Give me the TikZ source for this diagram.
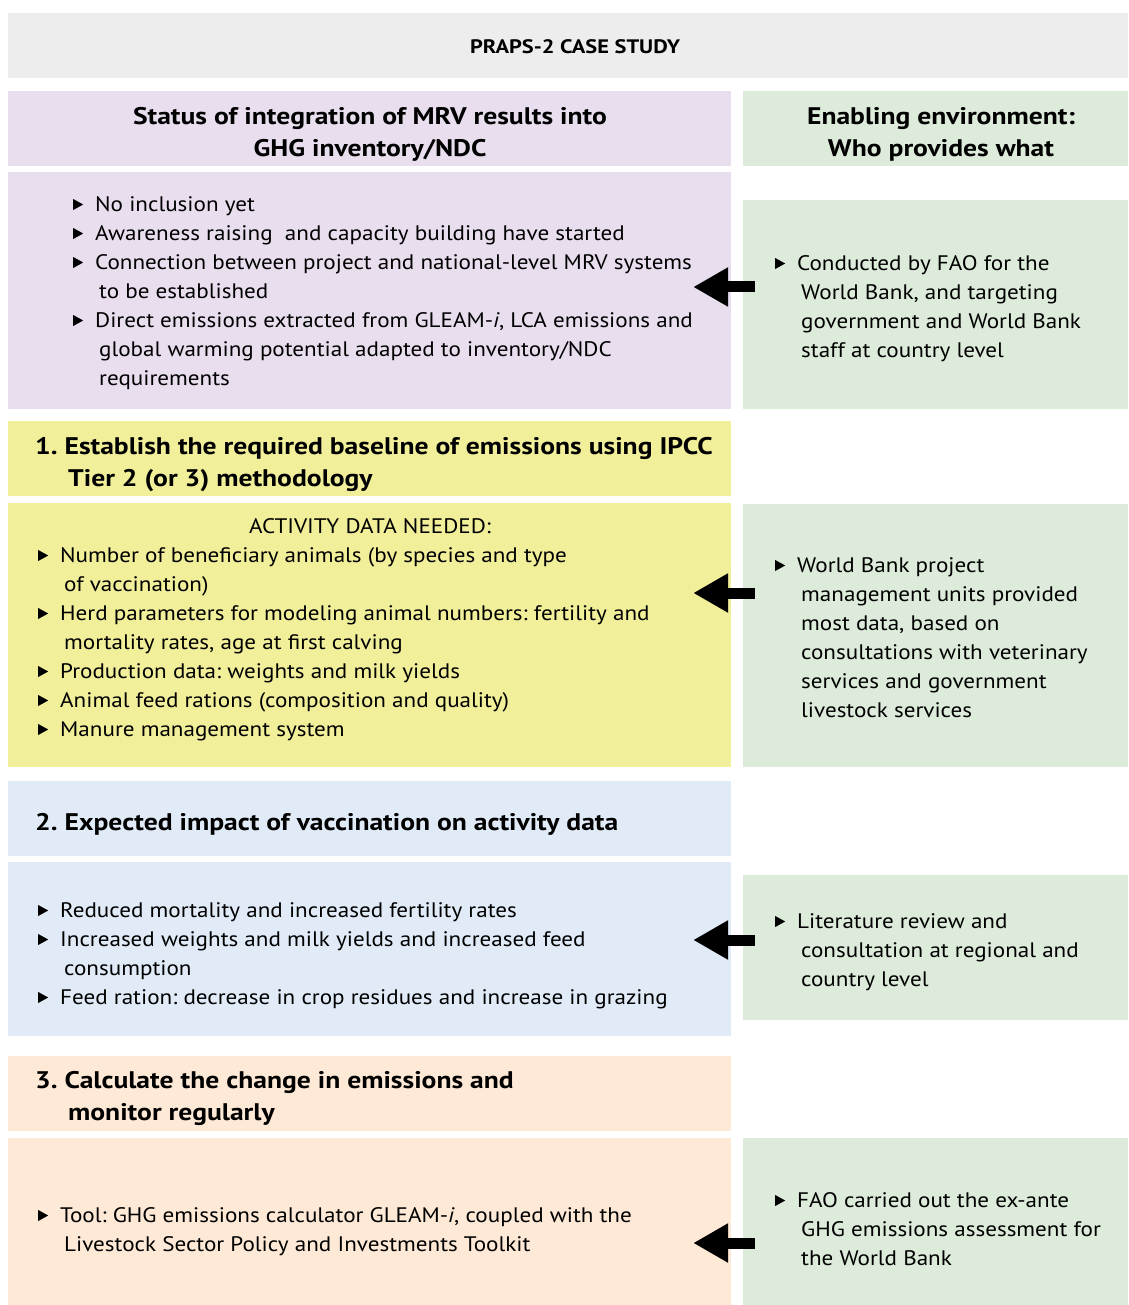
\documentclass[tikz,border=0pt]{standalone}
\usepackage{fontspec}
\setmainfont{PT Sans}[FakeStretch=1.1,BoldFeatures={FakeStretch=1.15}]
\usetikzlibrary{fit,calc,arrows.meta}
\frenchspacing

\definecolor{mist}{HTML}{EDEDED}
\definecolor{lilac}{HTML}{E8DEEE}
\definecolor{sage}{HTML}{DDEBDA}
\definecolor{lemon}{HTML}{F1EF9A}
\definecolor{sky}{HTML}{E0EBF7}
\definecolor{peach}{HTML}{FDE9D6}

\newcommand{\blt}{\raisebox{1pt}{\tikz[x=1pt,y=1pt]\fill (0,0) -- (10,5.5) -- (0,11) -- cycle;}}
\newcommand{\itm}[1]{\makebox[22pt][l]{\blt}#1}
\newcommand{\cnt}{\hspace*{26pt}}

\begin{document}
\begin{tikzpicture}[x=1pt,y=-1pt]
		\tikzstyle{panel}=[inner sep=0,draw=none]
		\tikzstyle{hd}=[align=center,anchor=base,inner sep=0,font=\bfseries\fontsize{24}{32.5}\selectfont]
		\tikzstyle{stephead}=[align=left,anchor=base west,inner sep=0,font=\bfseries\fontsize{24}{32}\selectfont]
		\tikzstyle{txt}=[align=left,anchor=base west,inner sep=0,font=\fontsize{21}{29}\selectfont]
		\tikzstyle{push}=[-{Triangle[length=35pt,width=37pt]},line width=11pt]

		\useasboundingbox (0,0) rectangle (1128,1305);

		% background panels
		\node [panel,fill=mist,fit={(8,13) (1128,78)}] (top) {};
		\node [panel,fill=lilac,fit={(8,91) (731,166)}] (stat) {};
		\node [panel,fill=sage,fit={(743,91) (1128,166)}] (env) {};
		\node [panel,fill=lilac,fit={(8,172) (731,409)}] (stat1) {};
		\node [panel,fill=sage,fit={(743,200) (1128,409)}] (env1) {};
		\node [panel,fill=lemon,fit={(8,421) (731,496)}] (base) {};
		\node [panel,fill=lemon,fit={(8,503) (731,767)}] (base1) {};
		\node [panel,fill=sage,fit={(743,504) (1128,767)}] (env2) {};
		\node [panel,fill=sky,fit={(8,781) (731,856)}] (imp) {};
		\node [panel,fill=sky,fit={(8,862) (731,1036)}] (imp1) {};
		\node [panel,fill=sage,fit={(743,875) (1128,1020)}] (env3) {};
		\node [panel,fill=peach,fit={(8,1056) (731,1131)}] (calc) {};
		\node [panel,fill=peach,fit={(8,1138) (731,1305)}] (calc1) {};
		\node [panel,fill=sage,fit={(743,1138) (1128,1305)}] (env4) {};

		% headings (multi-line nodes: base = last line)
		\node [inner sep=0,anchor=base,font=\bfseries\fontsize{19.5}{23}\selectfont] (topx) at (575,54) {PRAPS-2 CASE STUDY};
		\node [hd] (statx) at (370,157) {Status of integration of MRV results into\\GHG inventory/NDC};
		\node [hd] (envx) at (941,157) {Enabling environment:\\Who provides what};
		\node [stephead] (basex) at (35,486) {1. Establish the required baseline of emissions using IPCC\\\hspace*{33pt}Tier 2 (or 3) methodology};
		\node [stephead] (impx) at (35,830) {2. Expected impact of vaccination on activity data};
		\node [stephead] (calcx) at (35,1120) {3. Calculate the change in emissions and\\\hspace*{33pt}monitor regularly};

		% left column
		\node [txt] (stat1x) at (73,385) {\itm{No inclusion yet}\\
			\itm{Awareness raising\ \ and capacity building have started}\\
			\itm{Connection between project and national-level MRV systems}\\
			\cnt to be established\\
			\itm{Direct emissions extracted from GLEAM-\textit{i}, LCA emissions and}\\
			\cnt global warming potential adapted to inventory/NDC\\
			\cnt requirements};
		\node [txt,anchor=base] (base1t) at (370,533) {ACTIVITY DATA NEEDED:};
		\node [txt] (base1x) at (38,736) {\itm{Number of beneficiary animals (by species and type}\\
			\cnt of vaccination)\\
			\itm{Herd parameters for modeling animal numbers: fertility and}\\
			\cnt mortality rates, age at first calving\\
			\itm{Production data: weights and milk yields}\\
			\itm{Animal feed rations (composition and quality)}\\
			\itm{Manure management system}};
		\node [txt] (imp1x) at (38,1004) {\itm{Reduced mortality and increased fertility rates}\\
			\itm{Increased weights and milk yields and increased feed}\\
			\cnt consumption\\
			\itm{Feed ration: decrease in crop residues and increase in grazing}};
		\node [txt] (calc1x) at (38,1251) {\itm{Tool: GHG emissions calculator GLEAM-\textit{i}, coupled with the}\\
			\cnt Livestock Sector Policy and Investments Toolkit};

		% right column
		\node [txt] (env1x) at (775,357) {\itm{Conducted by FAO for the}\\
			\cnt World Bank, and targeting\\
			\cnt government and World Bank\\
			\cnt staff at country level};
		\node [txt] (env2x) at (775,717) {\itm{World Bank project}\\
			\cnt management units provided\\
			\cnt most data, based on\\
			\cnt consultations with veterinary\\
			\cnt services and government\\
			\cnt livestock services};
		\node [txt] (env3x) at (775,986) {\itm{Literature review and}\\
			\cnt consultation at regional and\\
			\cnt country level};
		\node [txt] (env4x) at (775,1265) {\itm{FAO carried out the ex-ante}\\
			\cnt GHG emissions assessment for\\
			\cnt the World Bank};

		% arrows
		\draw [push] ($(env1.west |- 0,287)+(12,0)$) -- ($(stat1.east |- 0,287)+(-38,0)$);
		\draw [push] ($(env2.west |- 0,593)+(12,0)$) -- ($(base1.east |- 0,593)+(-38,0)$);
		\draw [push] ($(env3.west |- 0,940)+(12,0)$) -- ($(imp1.east |- 0,940)+(-38,0)$);
		\draw [push] ($(env4.west |- 0,1243)+(12,0)$) -- ($(calc1.east |- 0,1243)+(-38,0)$);
\end{tikzpicture}
\end{document}
